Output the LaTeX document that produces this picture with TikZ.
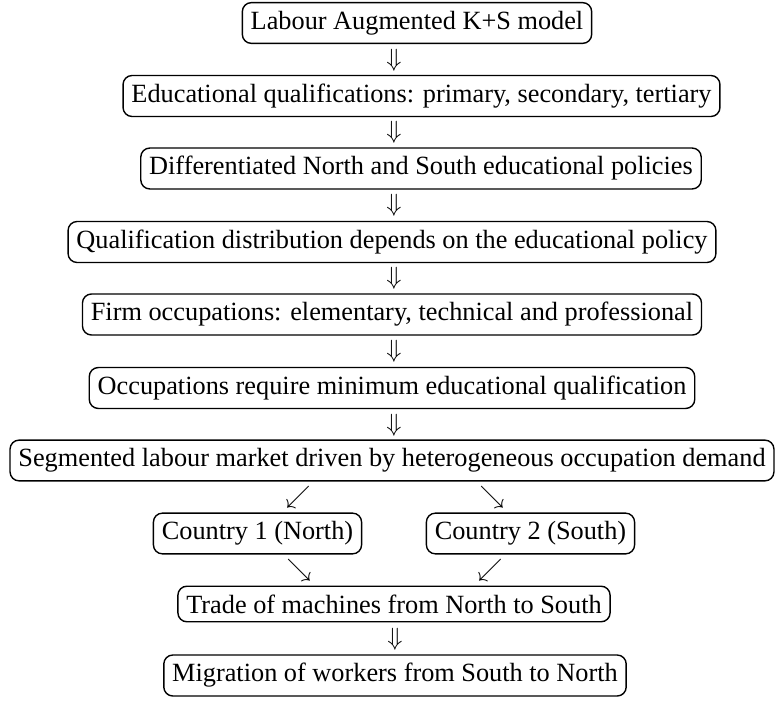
\documentclass[tikz,border=0pt]{standalone}
\usepackage{fontspec}
\setmainfont{Liberation Serif}
\begin{document}
\begin{tikzpicture}[x=1pt,y=-1pt,
  box/.style={draw, rounded corners=9pt, line width=1.4pt, inner sep=8.4pt,
              font=\fontsize{26.3}{31}\selectfont},
  glyph/.style={inner sep=0pt, font=\fontsize{26.3}{31}\selectfont}]
\useasboundingbox (0,0) rectangle (777,701);
\node[box] (b1) at (417,23)    {Labour Augmented K+S model};
\node[box] (b2) at (421.5,96)  {Educational qualifications: primary, secondary, tertiary};
\node[box] (b3) at (421,168.5) {Differentiated North and South educational policies};
\node[box] (b4) at (392,242)   {Qualification distribution depends on the educational policy};
\node[box] (b5) at (392,314.5) {Firm occupations: elementary, technical and professional};
\node[box] (b6) at (392,388)   {Occupations require minimum educational qualification};
\node[box] (b7) at (392,460.5) {Segmented labour market driven by heterogeneous occupation demand};
\node[box] (c1) at (257.5,533.5) {Country 1 (North)};
\node[box] (c2) at (530.5,533.5) {Country 2 (South)};
\node[box] (t)  at (394,604)   {Trade of machines from North to South};
\node[box] (m)  at (395,675.5) {Migration of workers from South to North};
\node[glyph] (a1) at (394,60)  {$\Downarrow$};
\node[glyph] (a2) at (394,132) {$\Downarrow$};
\node[glyph] (a3) at (394,205) {$\Downarrow$};
\node[glyph] (a4) at (394,278) {$\Downarrow$};
\node[glyph] (a5) at (394,351) {$\Downarrow$};
\node[glyph] (a6) at (394,425) {$\Downarrow$};
\node[glyph] (d1) at (298,497) {$\swarrow$};
\node[glyph] (d2) at (492,497) {$\searrow$};
\node[glyph] (d3) at (299,570) {$\searrow$};
\node[glyph] (d4) at (490,570) {$\swarrow$};
\node[glyph] (a7) at (395,639) {$\Downarrow$};
\end{tikzpicture}
\end{document}
